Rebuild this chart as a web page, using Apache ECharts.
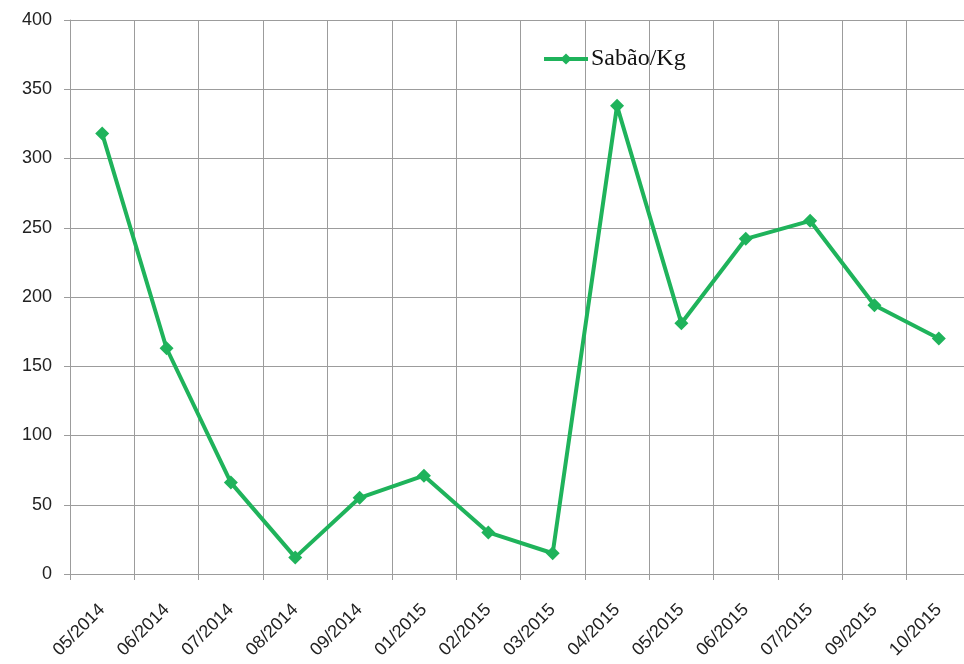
<!DOCTYPE html>
<html>
<head>
<meta charset="utf-8">
<script src="https://cdn.jsdelivr.net/npm/echarts@6/dist/echarts.min.js"></script>
<style>html,body{margin:0;padding:0;background:#fff;overflow:hidden}#c{width:971px;height:664px}</style>
</head>
<body>
<div id="c"></div>
<script>
const categories = ["05/2014","06/2014","07/2014","08/2014","09/2014","01/2015","02/2015","03/2015","04/2015","05/2015","06/2015","07/2015","09/2015","10/2015"];
const sabaoKg = [318, 163, 66, 12, 55, 71, 30, 15, 338, 181, 242, 255, 194, 170];
const seriesName = "Sabão/Kg";

const chart = echarts.init(document.getElementById('c'), null, {renderer: 'canvas'});
const gray = '#9c9c9c';
chart.setOption({
  animation: false,
  backgroundColor: '#ffffff',
  grid: {left: 70, top: 20, right: 0, bottom: 90, containLabel: false},
  legend: {
    left: 537, top: 42,
    itemWidth: 44, itemHeight: 14,
    itemGap: 4,
    lineStyle: {width: 4},
    textStyle: {fontFamily: 'Liberation Serif', fontSize: 24, color: '#111', padding: [0,0,0,-2]},
    data: [seriesName]
  },
  xAxis: {
    type: 'category',
    data: categories,
    boundaryGap: true,
    axisLine: {lineStyle: {color: gray, width: 1}},
    axisTick: {show: true, length: 6, lineStyle: {color: gray}},
    splitLine: {show: true, lineStyle: {color: gray, width: 1}},
    axisLabel: {rotate: 45, margin: 33, fontSize: 18, color: '#222', fontFamily: 'Liberation Sans', interval: 0}
  },
  yAxis: {
    type: 'value',
    min: 0, max: 400, interval: 50,
    axisLine: {show: true, lineStyle: {color: gray, width: 1}},
    axisTick: {show: true, length: 6, lineStyle: {color: gray}},
    splitLine: {show: true, lineStyle: {color: gray, width: 1}},
    axisLabel: {fontSize: 18, color: '#222', margin: 18, fontFamily: 'Liberation Sans'}
  },
  series: [{
    name: seriesName,
    type: 'line',
    data: sabaoKg,
    symbol: 'diamond',
    symbolSize: 14,
    showAllSymbol: true,
    itemStyle: {color: '#1fb35b'},
    lineStyle: {color: '#1fb35b', width: 4}
  }]
});
</script>
</body>
</html>
